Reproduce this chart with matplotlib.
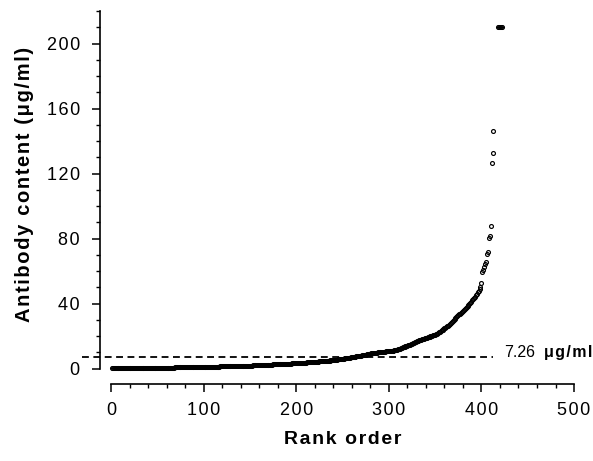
import numpy as np
import matplotlib
matplotlib.use("Agg")
import matplotlib.pyplot as plt
from matplotlib.ticker import MultipleLocator

#font: Arial-like, DejaVu as fallback
plt.rcParams["font.family"] = ["Liberation Sans", "DejaVu Sans"]

#antibody content (ug/ml) of each sample, sorted (rank 1, 2, 3, ...)
antibody = [
    0.05, 0.06, 0.07, 0.08, 0.09, 0.10, 0.11, 0.12, 0.13, 0.14,
    0.15, 0.16, 0.17, 0.18, 0.19, 0.20, 0.20, 0.21, 0.22, 0.23,
    0.24, 0.25, 0.26, 0.26, 0.27, 0.28, 0.29, 0.30, 0.30, 0.31,
    0.32, 0.33, 0.34, 0.34, 0.35, 0.36, 0.37, 0.38, 0.38, 0.39,
    0.40, 0.41, 0.42, 0.42, 0.43, 0.44, 0.45, 0.46, 0.46, 0.47,
    0.48, 0.49, 0.50, 0.51, 0.52, 0.53, 0.54, 0.55, 0.56, 0.57,
    0.58, 0.59, 0.60, 0.61, 0.62, 0.63, 0.64, 0.65, 0.66, 0.67,
    0.68, 0.69, 0.70, 0.71, 0.72, 0.73, 0.74, 0.75, 0.76, 0.77,
    0.78, 0.79, 0.80, 0.81, 0.82, 0.83, 0.84, 0.85, 0.86, 0.87,
    0.88, 0.89, 0.90, 0.91, 0.92, 0.93, 0.94, 0.95, 0.96, 0.97,
    0.99, 1.00, 1.02, 1.04, 1.05, 1.07, 1.09, 1.10, 1.12, 1.14,
    1.15, 1.17, 1.19, 1.20, 1.22, 1.24, 1.25, 1.27, 1.29, 1.30,
    1.32, 1.34, 1.36, 1.38, 1.40, 1.42, 1.44, 1.46, 1.48, 1.50,
    1.52, 1.54, 1.56, 1.58, 1.60, 1.62, 1.64, 1.66, 1.68, 1.70,
    1.72, 1.74, 1.75, 1.76, 1.77, 1.78, 1.79, 1.80, 1.81, 1.82,
    1.85, 1.87, 1.90, 1.92, 1.95, 1.97, 2.00, 2.02, 2.05, 2.08,
    2.10, 2.13, 2.16, 2.19, 2.22, 2.25, 2.28, 2.31, 2.34, 2.37,
    2.40, 2.43, 2.46, 2.49, 2.52, 2.55, 2.58, 2.61, 2.64, 2.67,
    2.70, 2.73, 2.76, 2.79, 2.82, 2.85, 2.88, 2.91, 2.94, 2.97,
    3.00, 3.03, 3.06, 3.09, 3.12, 3.15, 3.18, 3.21, 3.24, 3.27,
    3.30, 3.34, 3.38, 3.42, 3.46, 3.50, 3.54, 3.58, 3.62, 3.66,
    3.70, 3.74, 3.78, 3.82, 3.86, 3.90, 3.95, 4.00, 4.05, 4.10,
    4.15, 4.20, 4.25, 4.30, 4.35, 4.40, 4.45, 4.50, 4.55, 4.60,
    4.65, 4.70, 4.76, 4.82, 4.88, 4.94, 5.00, 5.06, 5.12, 5.20,
    5.28, 5.36, 5.44, 5.52, 5.60, 5.68, 5.76, 5.84, 5.92, 6.00,
    6.09, 6.18, 6.27, 6.36, 6.45, 6.54, 6.63, 6.72, 6.81, 6.90,
    7.00, 7.11, 7.22, 7.33, 7.44, 7.55, 7.66, 7.77, 7.88, 8.00,
    8.12, 8.24, 8.36, 8.48, 8.60, 8.72, 8.84, 8.96, 9.08, 9.20,
    9.30, 9.40, 9.50, 9.60, 9.68, 9.76, 9.84, 9.92, 10.0, 10.1,
    10.15, 10.2, 10.3, 10.35, 10.4, 10.45, 10.5, 10.55, 10.6, 10.65,
    10.7, 10.8, 10.9, 11.0, 11.1, 11.2, 11.3, 11.5, 11.7, 11.9,
    12.1, 12.3, 12.6, 12.8, 13.0, 13.2, 13.4, 13.6, 13.8, 14.0,
    14.2, 14.4, 14.6, 14.9, 15.2, 15.5, 15.8, 16.1, 16.4, 16.7,
    17.0, 17.2, 17.4, 17.6, 17.8, 18.0, 18.2, 18.4, 18.6, 18.8,
    19.0, 19.2, 19.4, 19.6, 19.8, 20.0, 20.2, 20.4, 20.6, 20.8,
    21.1, 21.5, 21.9, 22.3, 22.7, 23.1, 23.5, 23.9, 24.3, 24.7,
    25.1, 25.5, 25.9, 26.4, 27.0, 27.6, 28.2, 28.8, 29.4, 30.0,
    30.6, 31.2, 31.8, 32.3, 32.8, 33.3, 33.8, 34.3, 34.8, 35.4,
    36.0, 36.6, 37.2, 37.8, 38.4, 39.1, 39.8, 40.5, 41.2, 41.9,
    42.7, 43.5, 44.3, 45.2, 46.0, 46.8, 47.6,
    48.7, 50.3, 52.4,
    59.2, 60.6, 62.3, 64.1, 65.7,
    70.5, 71.9,
    80.3, 81.8,
    87.9,
    126.5, 132.6, 146.2,
]
#samples above the top of the scale, drawn at 210
top_rank = [418, 419, 420, 421, 422]
top_value = [210, 210, 210, 210, 210]
#cut-off value (dashed line)
cutoff = 7.26

x_ticks = [0, 100, 200, 300, 400, 500]
y_ticks = [0, 40, 80, 120, 160, 200]

#rank of each sample
rank = np.arange(1, len(antibody) + 1)


def spaced(s):
    #put a hair space between letters (wide letter spacing of the original)
    return "\u200a".join(s)


fig = plt.figure(figsize=(5.93, 4.61), dpi=100)
ax = fig.add_axes([100 / 593, 77 / 461, 474.3 / 593, 373 / 461])

#open circles
ax.plot(rank, antibody, "o", ms=2.8, mfc="none", mec="black", mew=0.85,
        clip_on=False)
ax.plot(top_rank, top_value, "o", ms=2.8, mfc="none", mec="black", mew=0.85,
        clip_on=False)

#dashed cut-off line, starts left of the y axis
ax.plot([-31, 413], [cutoff, cutoff], color="black", lw=1.3,
        dashes=(3.8, 2.5), clip_on=False)
ax.text(425, cutoff, "%.2f" % cutoff, fontsize=11.5, ha="left",
        va="baseline")
ax.text(468, cutoff, spaced("μg/ml"), fontsize=11.5, fontweight="bold",
        ha="left", va="baseline", clip_on=False)

#axes
ax.set_xlim(-11.9, 500.3)
ax.set_ylim(-9.5, 220)
ax.spines["top"].set_visible(False)
ax.spines["right"].set_visible(False)
ax.spines["left"].set_bounds(0, 220)
ax.spines["bottom"].set_bounds(0, 500)
ax.spines["left"].set_linewidth(1.2)
ax.spines["bottom"].set_linewidth(1.2)

ax.set_xticks(x_ticks)
ax.set_yticks(y_ticks)
ax.set_xticklabels([spaced(str(t)) for t in x_ticks])
ax.set_yticklabels([spaced(str(t)) for t in y_ticks])
ax.xaxis.set_minor_locator(MultipleLocator(20))
ax.yaxis.set_minor_locator(MultipleLocator(10))
ax.tick_params(which="major", direction="out", length=6, width=1.1,
               labelsize=13)
ax.tick_params(which="minor", direction="out", length=3, width=1.0)
ax.tick_params(axis="y", which="major", pad=8.5)
ax.tick_params(axis="x", which="major", pad=7)

ax.set_xlabel(spaced("Rank order"), fontsize=14, fontweight="bold")
ax.set_ylabel(spaced("Antibody content (μg/ml)"), fontsize=14.5,
              fontweight="bold")
ax.xaxis.set_label_coords(0.511, -0.125)
ax.yaxis.set_label_coords(-0.14, 0.536)

fig.savefig("out.png", dpi=100)
